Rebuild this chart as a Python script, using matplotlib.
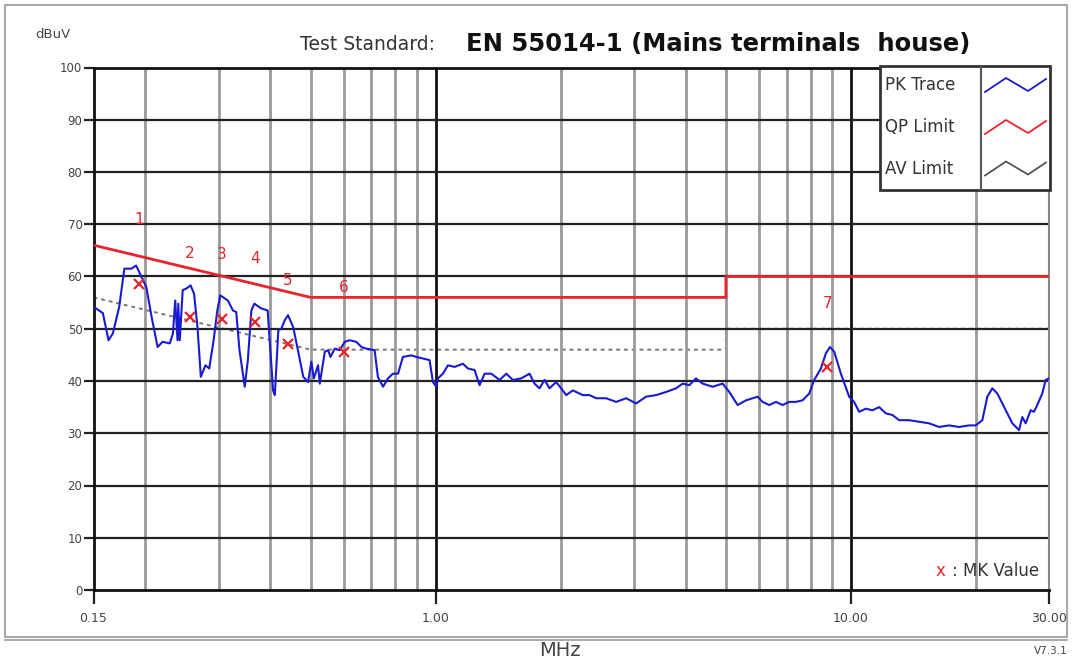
import matplotlib
matplotlib.use('Agg')
import matplotlib.pyplot as plt
from matplotlib.lines import Line2D
from matplotlib.patches import Rectangle

plt.rcParams['font.family'] = ['DejaVu Sans']

# PK trace (MHz, dBuV)
pk_freq = [0.150, 0.158, 0.163, 0.167, 0.173, 0.178, 0.185, 0.190, 0.195, 0.201,
           0.207, 0.214, 0.220, 0.229, 0.233, 0.236, 0.239, 0.240, 0.242, 0.246,
           0.251, 0.257, 0.262, 0.267, 0.272, 0.279, 0.285, 0.292, 0.298, 0.303,
           0.316, 0.325, 0.331, 0.337, 0.347, 0.353, 0.360, 0.366, 0.380, 0.394,
           0.400, 0.406, 0.410, 0.418, 0.425, 0.433, 0.441, 0.454, 0.466, 0.480,
           0.493, 0.502, 0.509, 0.521, 0.526, 0.541, 0.551, 0.558, 0.572, 0.588,
           0.604, 0.621, 0.644, 0.663, 0.681, 0.713, 0.726, 0.747, 0.768, 0.789,
           0.812, 0.834, 0.874, 0.899, 0.932, 0.967, 0.985, 1.004, 1.013, 1.041,
           1.071, 1.111, 1.163, 1.196, 1.241, 1.276, 1.312, 1.361, 1.426, 1.480,
           1.535, 1.608, 1.683, 1.730, 1.779, 1.829, 1.880, 1.951, 2.006, 2.063,
           2.140, 2.262, 2.347, 2.436, 2.574, 2.721, 2.876, 3.040, 3.213, 3.396,
           3.589, 3.793, 3.935, 4.083, 4.237, 4.395, 4.647, 4.911, 5.096, 5.337,
           5.591, 5.962, 6.129, 6.361, 6.601, 6.847, 7.106, 7.374, 7.649, 7.938,
           8.160, 8.469, 8.707, 8.902, 9.118, 9.461, 9.906, 10.18, 10.47, 10.87,
           11.27, 11.70, 12.14, 12.59, 13.07, 13.81, 14.60, 15.43, 16.31, 17.24,
           18.22, 19.26, 19.98, 20.73, 21.31, 21.91, 22.53, 23.60, 24.48, 25.41,
           25.87, 26.36, 27.10, 27.60, 28.11, 28.90, 29.45, 30.0]
pk_level = [54.2, 53.0, 47.8, 49.1, 54.2, 61.5, 61.5, 62.1, 60.2, 58.0,
            52.3, 46.5, 47.5, 47.2, 49.1, 55.4, 47.8, 54.8, 47.8, 57.4,
            57.7, 58.3, 56.7, 50.3, 40.8, 43.0, 42.4, 47.8, 53.5, 56.4,
            55.4, 53.5, 53.2, 45.9, 38.9, 44.0, 53.5, 54.8, 53.9, 53.5,
            45.9, 38.2, 37.3, 49.7, 50.0, 51.6, 52.6, 50.3, 45.9, 40.8,
            39.8, 43.7, 40.5, 43.0, 39.5, 45.6, 45.9, 44.6, 46.2, 45.9,
            47.5, 47.8, 47.5, 46.5, 46.2, 45.9, 40.8, 38.9, 40.5, 41.4,
            41.4, 44.6, 44.9, 44.6, 44.3, 44.0, 39.8, 38.9, 40.5, 41.4,
            43.0, 42.7, 43.3, 42.4, 42.1, 39.2, 41.4, 41.4, 40.2, 41.4,
            40.2, 40.5, 41.4, 39.5, 38.6, 40.2, 38.6, 39.8, 38.6, 37.3,
            38.2, 37.3, 37.3, 36.7, 36.7, 36.0, 36.7, 35.7, 37.0, 37.3,
            37.9, 38.6, 39.5, 39.2, 40.5, 39.5, 38.9, 39.5, 37.9, 35.4,
            36.3, 37.0, 36.0, 35.4, 36.0, 35.4, 36.0, 36.0, 36.3, 37.6,
            40.2, 42.4, 45.3, 46.5, 45.6, 41.4, 37.0, 36.0, 34.1, 34.7,
            34.4, 35.0, 33.8, 33.5, 32.5, 32.5, 32.2, 31.9, 31.2, 31.5,
            31.2, 31.5, 31.5, 32.5, 37.0, 38.6, 37.6, 34.4, 31.9, 30.6,
            33.1, 31.9, 34.4, 34.1, 35.4, 37.6, 40.2, 40.5]

# limits
qp_freq = [0.15, 0.5, 5.0, 5.0, 30.0]
qp_level = [66, 56, 56, 60, 60]
av_freq = [0.15, 0.5, 5.0, 5.0, 30.0]
av_level = [56, 46, 46, 50, 50]

# markers
mk_freq = [0.193, 0.256, 0.306, 0.367, 0.441, 0.601, 8.77]
mk_level = [58.6, 52.2, 51.9, 51.3, 47.0, 45.6, 42.6]
mk_labels = ['1', '2', '3', '4', '5', '6', '7']

x_ticks = [0.15, 1.0, 10.0, 30.0]
x_ticklabels = ['0.15', '1.00', '10.00', '30.00']
y_ticks = [0, 10, 20, 30, 40, 50, 60, 70, 80, 90, 100]
grid_light = [0.2, 0.3, 0.4, 0.5, 0.6, 0.7, 0.8, 0.9,
              2, 3, 4, 5, 6, 7, 8, 9, 20]
grid_dark = [1.0, 10.0]

W, H = 1072, 661


def px(x, y):
    # figure pixel -> figure fraction
    return x / W, 1 - y / H


fig = plt.figure(figsize=(W / 100, H / 100), dpi=100)
ax = fig.add_axes([93.5 / W, 1 - 590 / H, (1049 - 93.5) / W, (590 - 67.5) / H])

ax.set_xscale('log')
ax.set_xlim(0.15, 30)
ax.set_ylim(0, 100)

# grid
for f in grid_light:
    ax.axvline(f, color='#9a9a9a', lw=2, zorder=1)
for f in grid_dark:
    ax.axvline(f, color='#111111', lw=2, zorder=1)
for v in y_ticks[1:-1]:
    ax.axhline(v, color='#222222', lw=1.6, zorder=1)

ax.plot(av_freq, av_level, color='#777777', lw=1.4, ls=(0, (2, 2)), zorder=0.5)
ax.plot(qp_freq, qp_level, color='#e8242c', lw=2, zorder=3)
ax.plot(pk_freq, pk_level, color='#1a1ad0', lw=1.5, zorder=4)
ax.plot(mk_freq, mk_level, ls='none', marker='x', color='#e8242c',
        ms=7, mew=1.6, zorder=5)
for f, v, lab in zip(mk_freq, mk_level, mk_labels):
    ax.annotate(lab, (f, v), xytext=(0, 46), textcoords='offset points',
                ha='center', va='center', color='#e8242c', fontsize=11)

ax.set_xticks(x_ticks)
ax.set_xticklabels(x_ticklabels)
ax.minorticks_off()
ax.set_yticks(y_ticks)
ax.tick_params(axis='y', length=7, width=1.6, color='#222222', labelsize=8.5,
               labelcolor='#444444', pad=1)
ax.tick_params(axis='x', length=10, width=1.6, color='#222222', labelsize=9,
               labelcolor='#444444', pad=6)
for side in ['left', 'bottom', 'top']:
    ax.spines[side].set_linewidth(2)
    ax.spines[side].set_color('#111111')
ax.spines['right'].set_color('#888888')
ax.spines['right'].set_linewidth(1.5)

# texts
fig.text(*px(35, 34), 'dBuV', fontsize=9.5, color='#444444', va='center')
fig.text(*px(300, 44), 'Test Standard:', fontsize=13.5, color='#333333', va='center')
fig.text(*px(466, 44), 'EN 55014-1 (Mains terminals  house)', fontsize=17.5,
         fontweight='bold', color='#111111', va='center')
fig.text(*px(560, 651), 'MHz', fontsize=14, color='#444444', ha='center', va='center')
fig.text(*px(1068, 651), 'V7.3.1', fontsize=7.5, color='#444444', ha='right', va='center')
fig.text(*px(936, 571), 'x', fontsize=12, color='#e8242c', va='center')
fig.text(*px(952, 571), ': MK Value', fontsize=12, color='#333333', va='center')

# legend table
x0, y0 = px(880, 190)
x1, y1 = px(1050, 66)
fig.add_artist(Rectangle((x0, y0), x1 - x0, y1 - y0, transform=fig.transFigure,
                         facecolor='white', edgecolor='#333333', lw=2, zorder=10))
sx, _ = px(981, 0)
fig.add_artist(Line2D([sx, sx], [y0, y1], transform=fig.transFigure,
                      color='#555555', lw=1.5, zorder=11))
leg_names = ['PK Trace', 'QP Limit', 'AV Limit']
leg_colors = ['#1a1ad0', '#e8242c', '#555555']
leg_rows = [85, 127, 168.5]
for name, col, yc in zip(leg_names, leg_colors, leg_rows):
    fig.text(*px(885, yc), name, fontsize=12, color='#333333', va='center',
             zorder=12)
    zx = [985, 1006, 1028, 1046]
    zy = [yc + 7, yc - 7, yc + 6, yc - 6]
    pts = [px(a, b) for a, b in zip(zx, zy)]
    fig.add_artist(Line2D([p[0] for p in pts], [p[1] for p in pts],
                          transform=fig.transFigure, color=col, lw=1.3, zorder=12))

# outer frame
fx0, fy0 = px(5, 637)
fx1, fy1 = px(1067, 5)
fig.add_artist(Rectangle((fx0, fy0), fx1 - fx0, fy1 - fy0, transform=fig.transFigure,
                         facecolor='none', edgecolor='#aaaaaa', lw=1.5, zorder=0))
bx0, by = px(5, 640)
bx1, _ = px(1067, 640)
fig.add_artist(Line2D([bx0, bx1], [by, by], transform=fig.transFigure,
                      color='#999999', lw=1.2))

fig.savefig('out.png', dpi=100)
